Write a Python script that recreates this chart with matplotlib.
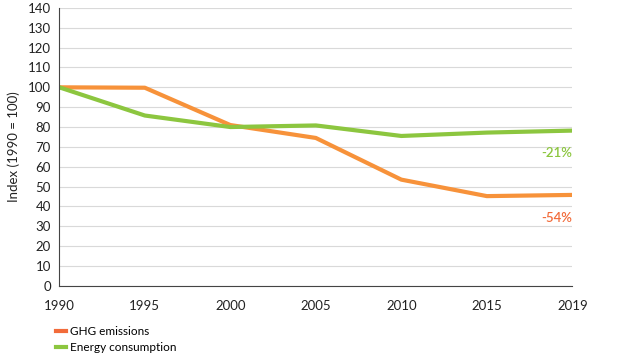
import matplotlib
matplotlib.use("Agg")
import matplotlib.pyplot as plt
from matplotlib.lines import Line2D

plt.rcParams['font.family'] = ['Lato', 'DejaVu Sans']

years = ["1990", "1995", "2000", "2005", "2010", "2015", "2019"]
ghg = [100, 99.8, 81, 74.5, 53.5, 45.2, 45.8]
energy = [100, 85.8, 80, 80.8, 75.5, 77.2, 78.2]
yticks = list(range(0, 141, 10))
series_labels = ["GHG emissions", "Energy consumption"]

orange = "#F7923A"
red_orange = "#F26B3A"
green = "#8CC63F"

fig = plt.figure(figsize=(6.31, 3.6), dpi=100)
ax = fig.add_axes([0.094, 0.206, 0.813, 0.772])
x = list(range(len(years)))
ax.plot(x, ghg, color=orange, lw=3, solid_capstyle="butt")
ax.plot(x, energy, color=green, lw=3, solid_capstyle="butt")

ax.set_xlim(0, len(years) - 1)
ax.set_ylim(0, 140)
ax.set_yticks(yticks)
ax.set_xticks(x)
ax.set_xticklabels(years)
ax.tick_params(length=0, labelsize=9.5, colors="#222222", pad=6)
ax.tick_params(axis='x', pad=10)
ax.grid(axis='y', color="#d9d9d9", lw=0.8)
ax.set_axisbelow(True)
for s in ["top", "right"]:
    ax.spines[s].set_visible(False)
ax.spines["left"].set_color("#444444")
ax.spines["bottom"].set_color("#444444")
ax.set_ylabel("Index (1990 = 100)", fontsize=9.5, color="#222222", labelpad=6)

ax.text(x[-1], 67, "-21%", color=green, fontsize=9.5, fontweight="semibold", ha="right", va="center")
ax.text(x[-1], 34, "-54%", color=red_orange, fontsize=9.5, fontweight="semibold", ha="right", va="center")

handles = [Line2D([0], [0], color=red_orange, lw=3), Line2D([0], [0], color=green, lw=3)]
fig.legend(handles, series_labels, loc="upper left", bbox_to_anchor=(0.088, 0.094), frameon=False,
           fontsize=8.5, handlelength=0.9, handletextpad=0.3, labelspacing=0.45,
           borderaxespad=0, borderpad=0)

fig.savefig("out.png", dpi=100)
